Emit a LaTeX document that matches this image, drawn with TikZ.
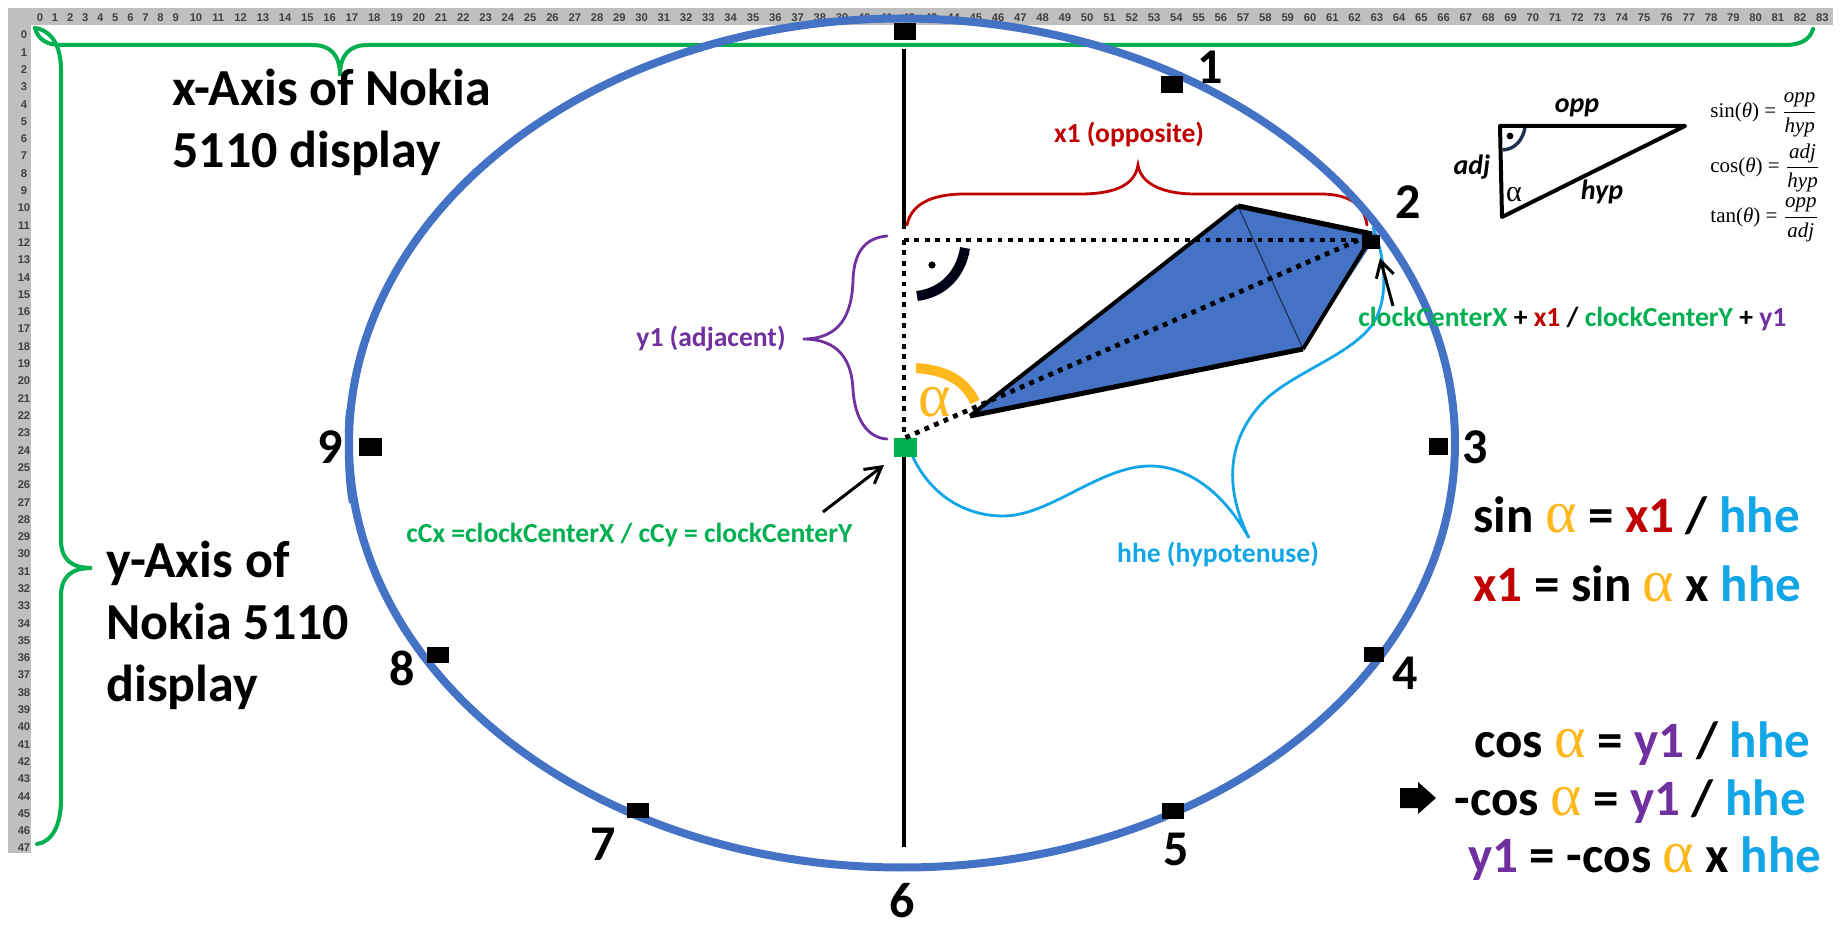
\documentclass[tikz,border=0pt]{standalone}
\usepackage{fontspec}
\usepackage{amsmath}
\setmainfont{Carlito}
\newfontfamily\rulerfont{Liberation Sans}
\newfontfamily\serfont{Liberation Serif}
\usetikzlibrary{arrows.meta}
\definecolor{rulergray}{HTML}{BFBFBF}
\definecolor{rulertext}{HTML}{404040}
\definecolor{bluering}{HTML}{4472C4}
\definecolor{gn}{HTML}{00B050}
\definecolor{rd}{HTML}{C00000}
\definecolor{pu}{HTML}{7030A0}
\definecolor{cy}{HTML}{12A6E6}
\definecolor{og}{HTML}{FFB81C}
\definecolor{navy}{HTML}{1F2F50}
\newcommand{\alf}{{\fontsize{30}{25}\serfont\mdseries\selectfont α}}
\newcommand{\fr}[2]{$\dfrac{\mbox{\serfont\itshape #1}}{\mbox{\serfont\itshape #2}}$}
\tikzset{
  x=0.5pt,y=-0.5pt,
  big/.style={inner sep=0,font=\fontsize{26}{26}\selectfont\bfseries},
  num/.style={inner sep=0,font=\fontsize{25}{25}\selectfont\bfseries},
  small/.style={inner sep=0,font=\fontsize{13.8}{13.8}\selectfont\bfseries},
  tri/.style={inner sep=0,font=\fontsize{14}{14}\selectfont\bfseries\itshape},
  frm/.style={inner sep=0,font=\fontsize{10.5}{10.5}\serfont},
  eqn/.style={inner sep=0,font=\fontsize{25.5}{25.5}\selectfont\bfseries,anchor=base west},
  tick/.style={fill=black,inner sep=0,minimum width=11pt,minimum height=8.5pt},
  rlabel/.style={inner sep=0,text=rulertext,font=\fontsize{5.6}{5.6}\rulerfont\bfseries},
  gbrace/.style={draw=gn,line width=2pt,line cap=round},
  thin brace/.style={line width=1.4pt,line cap=round},
  dots/.style={line width=2.4pt,dash pattern=on 2.4pt off 2.8pt},
  barb/.style={line width=1.5pt,-{Straight Barb[length=8pt,width=9pt,line width=1.5pt]}},
}
\begin{document}
\begin{tikzpicture}
\useasboundingbox (0,0) rectangle (1844,930);
% ruler
\fill[rulergray] (8,8) rectangle (1833,25);
\fill[rulergray] (8,8) rectangle (31,853);
\foreach \i in {0,...,9} \node[rlabel] (c\i) at ({40+\i*15.07},18) {\i};
\foreach \i in {10,...,83} \node[rlabel] (c\i) at ({196+(\i-10)*22.28},18) {\i};
\foreach \i in {0,...,47} \node[rlabel] (r\i) at (24,{35+\i*17.3}) {\i};
% axis braces
\coordinate (corner) at (35,28);
\draw[gbrace] (corner) .. controls (38,40) and (48,45) .. (60,45) -- (312,45)
  .. controls (330,45) and (340,54) .. (340,76)
  .. controls (340,54) and (350,45) .. (368,45) -- (1785,45)
  .. controls (1800,45) and (1810,40) .. (1813,29);
\draw[gbrace] (corner) .. controls (45,29) and (61,38) .. (61,70) -- (61,540)
  .. controls (61,560) and (72,568) .. (92,568)
  .. controls (72,568) and (61,576) .. (61,596) -- (61,800)
  .. controls (61,825) and (52,842) .. (37,844);
% clock centre line
\coordinate (axTop) at (904,49);
\coordinate (axUp) at (904,229);
\coordinate (axDown) at (904,457);
\coordinate (axBot) at (904,847);
\draw[line width=2.2pt] (axTop) -- (axUp);
\draw[line width=2.2pt] (axDown) -- (axBot);
% red brace
\draw[rd,thin brace] (907,225) .. controls (911,205) and (930,194) .. (965,194) -- (1080,194)
  .. controls (1115,194) and (1135,185) .. (1138,165)
  .. controls (1141,185) and (1165,194) .. (1195,194) -- (1320,194)
  .. controls (1350,194) and (1364,205) .. (1367,225);
% purple brace
\draw[pu,thin brace] (887,236) .. controls (865,238) and (854,252) .. (853,280)
  .. controls (852,315) and (840,339) .. (803,339)
  .. controls (840,339) and (852,362) .. (853,390)
  .. controls (855,420) and (868,438) .. (887,439);
% cyan brace
\draw[cy,thin brace] (912,455) .. controls (930,495) and (965,516) .. (1003,516)
  .. controls (1050,516) and (1100,466) .. (1150,466)
  .. controls (1190,466) and (1225,495) .. (1249,538)
  .. controls (1225,490) and (1225,440) .. (1265,400)
  .. controls (1295,372) and (1350,355) .. (1372,325)
  .. controls (1390,300) and (1385,255) .. (1373,228);
% kite
\fill[bluering] (970,416) -- (1238,206) -- (1378,234) -- (1303,349) -- cycle;
\draw[black!55!bluering,line width=.6pt] (1238,206) -- (1303,349);
\draw[line join=round,line width=2pt] (970,416) -- (1238,206);
\draw[line join=round,line width=2.6pt] (1238,206) -- (1372,234);
\draw[line join=round,line width=2pt] (1372,236) -- (1303,349);
\draw[line join=round,line width=2.5pt] (1303,349) -- (970,416);
% square at 2
\node[tick,minimum width=9pt,minimum height=7pt] (t2) at (1371,242) {};
% dotted triangle
\coordinate (rightA) at (904,240);
\node[fill=gn,inner sep=0,minimum width=11.5pt,minimum height=9.5pt] (ctr) at (905.5,447.5) {};
\draw[dots] (rightA) -- (rightA -| t2.east);
\draw[dots] (rightA) -- (rightA |- ctr.north);
\draw[dots] (ctr.north) -- (t2.north);
% angle marks
\draw[line width=5pt,black!92!blue] (965,248) .. controls (961,275) and (942,293) .. (917,296);
\fill (932,265) circle (3.6);
\draw[og,line width=5pt] (916,368) .. controls (945,370) and (965,380) .. (975,402);
\node[inner sep=0,text=og,font=\fontsize{31}{31}\serfont] (alpha) at (935,402) {α};
% ring
\draw[bluering,line width=4pt] (902,443) ellipse (553 and 424.5);
\draw[bluering,line width=2pt] (348,410) .. controls (346,430) and (346,480) .. (351,503);
% ticks
\node[tick] (t12) at (905,32) {};
\node[tick] (t1) at (1172,85) {};
\node[tick,minimum width=9.5pt] (t3) at (1438,447) {};
\node[tick,minimum width=10pt,minimum height=7.5pt] (t4) at (1374,655) {};
\node[tick,minimum height=8pt] (t5) at (1173,811) {};
\node[tick,minimum height=7.5pt] (t7) at (638,810) {};
\node[tick,minimum height=8pt] (t8) at (438,655) {};
\node[tick,minimum width=11.5pt,minimum height=9pt] (t9) at (370.5,447) {};
% numerals
\node[num] (n1) at (1210,67) {1};
\node[num] (n2) at (1408,202) {2};
\node[num] (n3) at (1475,447) {3};
\node[num] (n4) at (1405,673) {4};
\node[num] (n5) at (1176,849) {5};
\node[num] (n6) at (902,901) {6};
\node[num] (n7) at (603,844) {7};
\node[num] (n8) at (402,668) {8};
\node[num] (n9) at (330,447) {9};
% axis titles
\node[big,anchor=base west] (xa1) at (172,106) {x-Axis of Nokia};
\node[big,anchor=base west] (xa2) at (172,168) {5110 display};
\node[big,anchor=base west] (ya1) at (106,578) {y-Axis of};
\node[big,anchor=base west] (ya2) at (106,640) {Nokia 5110};
\node[big,anchor=base west] (ya3) at (106,702) {display};
% small labels
\node[small,text=rd] (lx1) at (1129,134) {x1 (opposite)};
\node[small,text=pu] (ly1) at (711,339) {y1 (adjacent)};
\node[small,text=gn,anchor=base west] (lc) at (406,543) {cCx =clockCenterX / cCy = clockCenterY};
\node[small,text=cy,anchor=base] (lh) at (1218,563) {hhe (hypotenuse)};
\node[small,anchor=base west] (lp) at (1358,327) {\textcolor{gn}{clockCenterX} + \textcolor{rd}{x1} / \textcolor{gn}{clockCenterY} + \textcolor{pu}{y1}};
% arrows
\coordinate (a1s) at (823,512);
\coordinate (a1e) at (884,465);
\coordinate (a2s) at (1393,306);
\coordinate (a2e) at (1380,258);
\draw[barb] (a1s) -- (a1e);
\draw[barb] (a2s) -- (a2e);
% reference triangle
\draw[line width=2pt,line join=round] (1500,126) -- (1685,126) -- (1502,217) -- cycle;
\draw[navy,line width=1.7pt] (1525,128) .. controls (1522,142) and (1514,149) .. (1503,150);
\fill (1510,136) circle (3.4);
\node[tri] (opp) at (1577,108) {opp};
\node[tri] (adj) at (1472,167) {adj};
\node[tri] (hyp) at (1602,192) {hyp};
\node[inner sep=0,font=\fontsize{15}{15}\serfont] (ta) at (1514,195) {α};
% trig formulas
\node[frm,anchor=west] (f1) at (1710,115) {sin(\textit{θ}) = \fr{opp}{hyp}};
\node[frm,anchor=west] (f2) at (1710,168) {cos(\textit{θ}) = \fr{adj}{hyp}};
\node[frm,anchor=west] (f3) at (1710,220) {tan(\textit{θ}) = \fr{opp}{adj}};
% equations
\node[eqn] (e1) at (1473,533) {sin \textcolor{og}{\alf} = \textcolor{rd}{x1} / \textcolor{cy}{hhe}};
\node[eqn] (e2) at (1473,602) {\textcolor{rd}{x1} = sin \textcolor{og}{\alf} x \textcolor{cy}{hhe}};
\node[eqn] (e3) at (1474,757) {cos \textcolor{og}{\alf} = \textcolor{pu}{y1} / \textcolor{cy}{hhe}};
\node[eqn] (e4) at (1454,815) {-cos \textcolor{og}{\alf} = \textcolor{pu}{y1} / \textcolor{cy}{hhe}};
\node[eqn] (e5) at (1468,872) {\textcolor{pu}{y1} = -cos \textcolor{og}{\alf} x \textcolor{cy}{hhe}};
\fill (1400,788) -- (1418,788) -- (1418,782) -- (1436,798) -- (1418,814) -- (1418,808) -- (1400,808) -- cycle;
\end{tikzpicture}
\end{document}
